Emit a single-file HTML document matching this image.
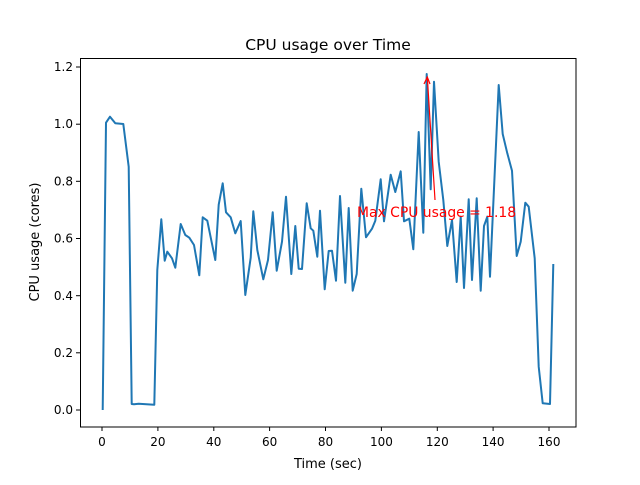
<!DOCTYPE html>
<html><head><style>body{margin:0;background:#fff}</style></head><body>
<svg width="640" height="480" xmlns="http://www.w3.org/2000/svg" font-family="DejaVu Sans, Liberation Sans, sans-serif">
<rect width="640" height="480" fill="#fff"/>
<polyline fill="none" stroke="#1f77b4" stroke-width="2" stroke-linejoin="round" points="102.7,410 106,122.7 110,116.7 115.3,123.3 123.3,124 128.7,166.7 131.7,404 134,404.3 138.7,403.7 154.3,404.7 157.3,270 161.3,219.3 164.7,260.7 167.3,251.7 172,258.3 175.3,267.7 180.7,224 185.3,235 189.3,237.7 194,245 199.3,275.3 202.7,217.3 207.3,220.7 215.3,260 218.7,204.7 222.7,183.3 226,212.3 230.7,217.3 235.3,233.3 240.7,221 245.3,295 250.7,257.7 253.3,211.3 257.3,250 263.3,279.3 268,260 272.7,212.3 276.7,270.7 282,241.7 286,196.7 291.3,274 295.3,226 298.7,268.7 302,269 306.7,203.3 310.7,228.3 313.3,230.7 317.3,256.7 320,210.7 324.7,289.3 328.7,251 332,250.7 336,280.7 340,196 345.3,282.7 348.7,208 352.7,290.7 356.7,274 361.3,188.7 366,237.3 372,228.7 375.3,220.7 380.7,179.3 384,221.3 390.7,174.7 395.3,192 400.7,171.3 404,221.3 409.3,218.7 413.3,249.3 418.7,132 423.3,232.7 426.7,74 430.7,189.3 434,81.7 438.7,161.7 443.3,200 447.3,246 452,220 456.7,282 460.7,216.7 464,288 468.7,199.3 472,280 476.7,198.3 480.7,290.7 484,226 487.3,216.7 490,276.7 498.7,85 502.7,134 507.3,153.3 512,170.7 516.7,256 520.7,241.7 525.3,202.7 528.7,206.7 534.7,258.3 538.7,366.7 542.7,403.3 550,404 553.3,264"/>
<line x1="435" y1="200" x2="427.3" y2="77" stroke="red" stroke-width="1.2"/>
<polyline points="424,84 427.3,77 430,84" fill="none" stroke="red" stroke-width="1.2"/>
<text x="357" y="217" font-size="13.9" fill="red">Max CPU usage = 1.18</text>
<rect x="80.5" y="58.5" width="495.5" height="368.5" fill="none" stroke="#000" stroke-width="1"/>
<g stroke="#000" stroke-width="1">
<line x1="102" y1="427" x2="102" y2="431"/><line x1="157.9" y1="427" x2="157.9" y2="431"/><line x1="213.8" y1="427" x2="213.8" y2="431"/><line x1="269.6" y1="427" x2="269.6" y2="431"/><line x1="325.5" y1="427" x2="325.5" y2="431"/><line x1="381.4" y1="427" x2="381.4" y2="431"/><line x1="437.3" y1="427" x2="437.3" y2="431"/><line x1="493.1" y1="427" x2="493.1" y2="431"/><line x1="549" y1="427" x2="549" y2="431"/>
<line x1="76" y1="410" x2="80" y2="410"/><line x1="76" y1="352.8" x2="80" y2="352.8"/><line x1="76" y1="295.7" x2="80" y2="295.7"/><line x1="76" y1="238.5" x2="80" y2="238.5"/><line x1="76" y1="181.3" x2="80" y2="181.3"/><line x1="76" y1="124.2" x2="80" y2="124.2"/><line x1="76" y1="67" x2="80" y2="67"/>
</g>
<g font-size="12" text-anchor="middle" fill="#000">
<text x="102" y="446">0</text><text x="157.9" y="446">20</text><text x="213.8" y="446">40</text><text x="269.6" y="446">60</text><text x="325.5" y="446">80</text><text x="381.4" y="446">100</text><text x="437.3" y="446">120</text><text x="493.1" y="446">140</text><text x="549" y="446">160</text>
</g>
<g font-size="12" text-anchor="end" fill="#000">
<text x="73" y="414">0.0</text><text x="73" y="357">0.2</text><text x="73" y="300">0.4</text><text x="73" y="242.5">0.6</text><text x="73" y="185.5">0.8</text><text x="73" y="128">1.0</text><text x="73" y="71">1.2</text>
</g>
<text x="328" y="468" font-size="13" text-anchor="middle">Time (sec)</text>
<text x="39" y="242" font-size="13" text-anchor="middle" transform="rotate(-90 39 242)">CPU usage (cores)</text>
<text x="328" y="50" font-size="15.5" text-anchor="middle">CPU usage over Time</text>
</svg>
</body></html>
